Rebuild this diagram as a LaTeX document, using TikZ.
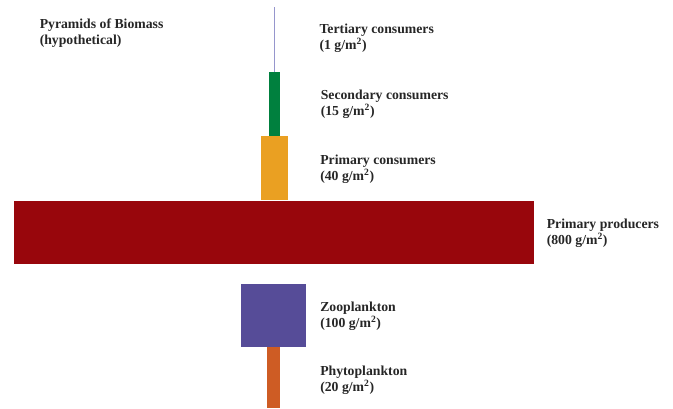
\documentclass[tikz,border=0pt]{standalone}
\usepackage{fontspec}
\setmainfont{Liberation Serif}
\definecolor{tertc}{RGB}{150,150,205}
\definecolor{secc}{RGB}{0,128,62}
\definecolor{primc}{RGB}{234,160,34}
\definecolor{prodc}{RGB}{152,6,12}
\definecolor{zooc}{RGB}{86,76,152}
\definecolor{phytc}{RGB}{206,92,36}
\begin{document}
\begin{tikzpicture}[x=0.75pt,y=-0.75pt,
  bar/.style={draw=none,inner sep=0pt,outer sep=0pt,rectangle},
  lbl/.style={anchor=west,align=left,inner sep=0pt,font=\bfseries\fontsize{10.3}{11.8}\selectfont,text=black!85}]
\useasboundingbox (0,0) rectangle (673,408);
% bars
\node[bar,fill=tertc,minimum width=0.75pt,minimum height=48.75pt] (tert) at (274.3,39.5) {};
\node[bar,fill=secc,minimum width=8pt,minimum height=48pt] (sec) at (274.7,104) {};
\node[bar,fill=primc,minimum width=20pt,minimum height=48pt] (prim) at (274.3,168) {};
\node[bar,fill=prodc,minimum width=390pt,minimum height=47.5pt] (prod) at (274,232.3) {};
\node[bar,fill=zooc,minimum width=48.5pt,minimum height=47pt] (zoo) at (273.7,315.3) {};
\node[bar,fill=phytc,minimum width=9.5pt,minimum height=46pt] (phyt) at (273.7,377.5) {};
% labels
\node[lbl] (title) at (39.5,33) {Pyramids of Biomass\\(hypothetical)};
\node[lbl] (tertl) at (319.3,38.5) {Tertiary consumers\\(1 g/m\textsuperscript{2})};
\node[lbl] (secl) at (320.5,104.5) {Secondary consumers\\(15 g/m\textsuperscript{2})};
\node[lbl] (priml) at (320,169) {Primary consumers\\(40 g/m\textsuperscript{2})};
\node[lbl] (prodl) at (546.5,233.5) {Primary producers\\(800 g/m\textsuperscript{2})};
\node[lbl] (zool) at (320,316) {Zooplankton\\(100 g/m\textsuperscript{2})};
\node[lbl] (phytl) at (320,380.5) {Phytoplankton\\(20 g/m\textsuperscript{2})};
\end{tikzpicture}
\end{document}
